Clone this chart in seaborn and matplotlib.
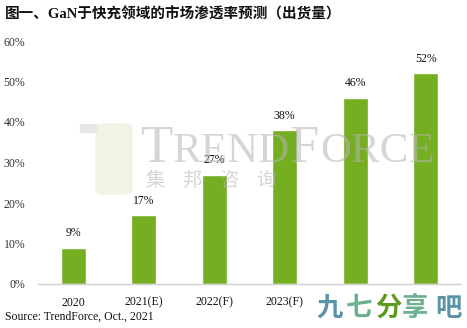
import matplotlib
matplotlib.use("Agg")
import matplotlib.pyplot as plt
from matplotlib.patches import Rectangle, FancyBboxPatch
import seaborn as sns
import pandas as pd

categories = ["2020", "2021(E)", "2022(F)", "2023(F)", "2024(F)", "2025(F)"]
values = [9, 17, 27, 38, 46, 52]
value_labels = ["9%", "17%", "27%", "38%", "46%", "52%"]
yticks = [0, 10, 20, 30, 40, 50, 60]
ytick_labels = ["0%", "10%", "20%", "30%", "40%", "50%", "60%"]
title = "图一、GaN于快充领域的市场渗透率预测（出货量）"
source = "Source: TrendForce, Oct., 2021"

sns.set_theme(style="white")
plt.rcParams["font.family"] = ["Liberation Serif", "Noto Sans CJK SC", "DejaVu Sans"]

df = pd.DataFrame({"cat": categories, "val": values})

W, H = 467, 328
fig = plt.figure(figsize=(4.67, 3.28), dpi=100)
ax = fig.add_axes([38/W, 1-284/H, (461-38)/W, (284-41)/H])

sns.barplot(data=df, x="cat", y="val", color="#76AE22", saturation=1, width=0.355, ax=ax, zorder=2)

ax.set_ylim(0, 60)
ax.set_xlim(-0.5, 5.5)
ax.set_yticks(yticks)
ax.set_yticklabels(ytick_labels, fontsize=8.5, color="#333333")
ax.set_xticks(range(len(categories)))
ax.set_xticklabels(categories, fontsize=8.5, color="#111111")
ax.set_xlabel("")
ax.set_ylabel("")
ax.tick_params(axis="both", length=0, pad=9)
for s in ["top", "right", "left"]:
    ax.spines[s].set_visible(False)
ax.spines["bottom"].set_color("#d0d0d0")
ax.spines["bottom"].set_linewidth(1)

for i, (v, lab) in enumerate(zip(values, value_labels)):
    ax.annotate(lab, (i, v), xytext=(0, 6), textcoords="offset points",
                ha="center", va="bottom", fontsize=8.5, color="#111111")

# TrendForce watermark
wm_kw = dict(color="#b4b4b4", alpha=0.55, ha="left", va="baseline", zorder=5)
base_y = 1 - 162/H
fig.text(140/W, base_y, "T", fontsize=38, **wm_kw)
fig.text(173/W, base_y, "REND", fontsize=31, **wm_kw)
fig.text(289/W, base_y, "F", fontsize=38, **wm_kw)
fig.text(320/W, base_y, "ORCE", fontsize=31, **wm_kw)
for k, c in enumerate(["集", "邦", "咨", "询"]):
    fig.text((155 + k*37)/W, 1 - 180/H, c, fontsize=14, color="#b4b4b4", alpha=0.55,
             ha="center", va="center", zorder=5, family=["Noto Sans CJK SC"])
fig.add_artist(FancyBboxPatch((96/W, 1-194/H), 36/W, 70/H,
                              boxstyle="round,pad=0,rounding_size=0.015",
                              transform=fig.transFigure, color="#eef3e2", alpha=0.9, zorder=1))
fig.add_artist(Rectangle((80/W, 1-132/H), 16/W, 8/H, transform=fig.transFigure,
                         color="#e6e6e6", zorder=1))

fig.text(0.01, 0.955, title, fontsize=10.5, fontweight="bold", color="#111111", ha="left", va="center")
fig.text(0.01, 0.033, source, fontsize=8.5, color="#111111", ha="left", va="center")

# bottom-right watermark
fig.add_artist(Rectangle((316/W, 0.0), (W-316)/W, 38/H, transform=fig.transFigure,
                         color="white", zorder=8))
wm_chars = ["九", "七", "分", "享", "吧"]
wm_cols = ["#5b93a6", "#6db08f", "#5c9a1e", "#6db08f", "#5b93a6"]
wm_x = [330, 359, 388, 415, 448]
for c, col, xx in zip(wm_chars, wm_cols, wm_x):
    fig.text(xx/W, 1 - 308/H, c, fontsize=19, fontweight="bold", color=col,
             ha="center", va="center", zorder=9, family=["Noto Sans CJK SC"])

fig.savefig("out.png", dpi=100)
